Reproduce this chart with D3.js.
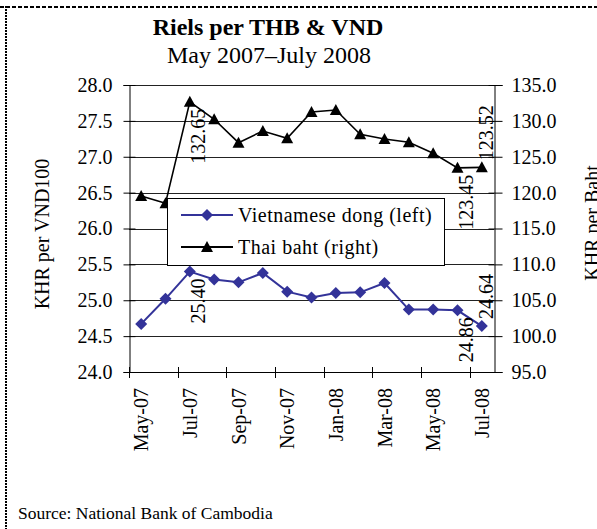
<!DOCTYPE html>
<html>
<head>
<meta charset="utf-8">
<script src="https://cdn.jsdelivr.net/npm/d3@7"></script>
<style>
  body { margin: 0; background: #fff; }
  text { font-family: "Liberation Serif", "Times New Roman", serif; fill: #000; }
</style>
</head>
<body>
<svg id="chart"></svg>
<script>
// months on the x axis
var months = ['May-07', 'Jun-07', 'Jul-07', 'Aug-07', 'Sep-07', 'Oct-07', 'Nov-07', 'Dec-07',
              'Jan-08', 'Feb-08', 'Mar-08', 'Apr-08', 'May-08', 'Jun-08', 'Jul-08'];
// KHR per VND100 (left axis)
var vnd = [24.67, 25.02, 25.40, 25.29, 25.25, 25.38, 25.12, 25.04, 25.10, 25.11, 25.24, 24.87, 24.87, 24.86, 24.64];
// KHR per Baht (right axis)
var thb = [119.53, 118.51, 132.65, 130.22, 126.96, 128.59, 127.57, 131.24, 131.52, 128.13, 127.47, 127.01, 125.48, 123.45, 123.52];
// which points carry a data label
var vndLabelled = [2, 13, 14];
var thbLabelled = [2, 13, 14];
var leftTicks = [24.0, 24.5, 25.0, 25.5, 26.0, 26.5, 27.0, 27.5, 28.0];
var rightTicks = [95, 100, 105, 110, 115, 120, 125, 130, 135];
var xTickMonths = ['May-07', 'Jul-07', 'Sep-07', 'Nov-07', 'Jan-08', 'Mar-08', 'May-08', 'Jul-08'];

var WIDTH = 597, HEIGHT = 529;
var plotL = 129, plotR = 494, plotT = 85, plotB = 372;
var blue = '#333399';

var svg = d3.select('#chart').attr('width', WIDTH).attr('height', HEIGHT);
svg.append('rect').attr('width', WIDTH).attr('height', HEIGHT).attr('fill', '#fff');

// dashed frame (top and left edges)
svg.append('line').attr('x1', 0).attr('x2', WIDTH).attr('y1', 7).attr('y2', 7)
  .attr('stroke', '#000').attr('stroke-width', 2).attr('stroke-dasharray', '4,2');
svg.append('line').attr('x1', 6).attr('x2', 6).attr('y1', 6).attr('y2', HEIGHT)
  .attr('stroke', '#000').attr('stroke-width', 2).attr('stroke-dasharray', '2,1');

var x = d3.scaleBand().domain(months).range([plotL, plotR]);
var yL = d3.scaleLinear().domain([24, 28]).range([plotB, plotT]);
var yR = d3.scaleLinear().domain([95, 135]).range([plotB, plotT]);
var cx = function (i) { return x(months[i]) + x.bandwidth() / 2; };

// titles
svg.append('text').attr('x', 268).attr('y', 35).attr('text-anchor', 'middle')
  .style('font-size', '24px').style('font-weight', 'bold').text('Riels per THB & VND');
svg.append('text').attr('x', 269).attr('y', 63).attr('text-anchor', 'middle')
  .style('font-size', '24px').text('May 2007\u2013July 2008');

// gridlines
svg.append('g').selectAll('line').data(leftTicks).enter().append('line')
  .attr('x1', plotL).attr('x2', plotR)
  .attr('y1', function (d) { return Math.round(yL(d)) + 0.5; })
  .attr('y2', function (d) { return Math.round(yL(d)) + 0.5; })
  .attr('stroke', '#222').attr('stroke-width', 1);

// left axis
var gl = svg.append('g').attr('transform', 'translate(' + (plotL + 0.5) + ',0)')
  .call(d3.axisLeft(yL).tickValues(leftTicks).tickFormat(d3.format('.1f'))
    .tickSize(6).tickPadding(11));
gl.selectAll('.tick line').attr('x1', 6);
gl.selectAll('text').style('font-size', '20px');

// right axis
var gr = svg.append('g').attr('transform', 'translate(' + (plotR + 0.5) + ',0)')
  .call(d3.axisRight(yR).tickValues(rightTicks).tickFormat(d3.format('.1f'))
    .tickSize(8).tickPadding(9));
gr.selectAll('.tick line').attr('x1', -6);
gr.selectAll('text').style('font-size', '20px');
svg.selectAll('.domain').attr('stroke', '#000');
svg.selectAll('.tick line').attr('stroke', '#000');

// x axis
var gx = svg.append('g');
gx.append('line').attr('x1', plotL).attr('x2', plotR).attr('y1', plotB + 0.5).attr('y2', plotB + 0.5)
  .attr('stroke', '#000');
gx.selectAll('line.tk').data(xTickMonths).enter().append('line').attr('class', 'tk')
  .attr('x1', function (d) { return Math.round(x(d)) + 0.5; })
  .attr('x2', function (d) { return Math.round(x(d)) + 0.5; })
  .attr('y1', plotB - 5).attr('y2', plotB + 6).attr('stroke', '#000');
gx.selectAll('text').data(xTickMonths).enter().append('text')
  .attr('transform', function (d) {
    return 'translate(' + (x(d) + x.bandwidth() / 2) + ',' + (plotB + 16) + ') rotate(-90)';
  })
  .attr('text-anchor', 'end').attr('dy', '0.35em').style('font-size', '20px')
  .text(function (d) { return d; });

// axis titles
svg.append('text').attr('transform', 'translate(42,234) rotate(-90)')
  .attr('text-anchor', 'middle').attr('dy', '0.35em').style('font-size', '20px').text('KHR per VND100');
svg.append('text').attr('transform', 'translate(592,223) rotate(-90)')
  .attr('text-anchor', 'middle').attr('dy', '0.35em').style('font-size', '20px').text('KHR per Baht');

// series lines
var lineL = d3.line().x(function (d, i) { return cx(i); }).y(function (d) { return yL(d); });
var lineR = d3.line().x(function (d, i) { return cx(i); }).y(function (d) { return yR(d); });
svg.append('path').datum(vnd).attr('d', lineL).attr('fill', 'none').attr('stroke', blue).attr('stroke-width', 2);
svg.append('path').datum(thb).attr('d', lineR).attr('fill', 'none').attr('stroke', '#000').attr('stroke-width', 1.6);

var diamond = 'M0,-6L6,0L0,6L-6,0Z';
var triangle = 'M0,-6L6,5L-6,5Z';
svg.append('g').selectAll('path').data(vnd).enter().append('path')
  .attr('d', diamond).attr('fill', blue)
  .attr('transform', function (d, i) { return 'translate(' + cx(i) + ',' + yL(d) + ')'; });
svg.append('g').selectAll('path').data(thb).enter().append('path')
  .attr('d', triangle).attr('fill', '#000')
  .attr('transform', function (d, i) { return 'translate(' + cx(i) + ',' + yR(d) + ')'; });

// data labels, rotated; the last point's label sits above, the others below
function addLabels(values, idx, scale) {
  svg.append('g').selectAll('text').data(idx).enter().append('text')
    .attr('transform', function (i) {
      var above = i === months.length - 1;
      var px = cx(i) + (above ? 4 : 8);
      var py = scale(values[i]) + (above ? -7 : 7);
      return 'translate(' + px + ',' + py + ') rotate(-90)';
    })
    .attr('text-anchor', function (i) { return i === months.length - 1 ? 'start' : 'end'; })
    .attr('dy', '0.35em').style('font-size', '20px')
    .text(function (i) { return d3.format('.2f')(values[i]); });
}
addLabels(thb, thbLabelled, yR);
addLabels(vnd, vndLabelled, yL);

// legend
var lg = svg.append('g');
lg.append('rect').attr('x', 167.5).attr('y', 198.5).attr('width', 277).attr('height', 67)
  .attr('fill', '#fff').attr('stroke', '#000');
var legendItems = [
  { name: 'Vietnamese dong (left)', color: blue, shape: diamond, y: 215 },
  { name: 'Thai baht (right)', color: '#000', shape: triangle, y: 247 }
];
legendItems.forEach(function (it) {
  lg.append('line').attr('x1', 181).attr('x2', 233).attr('y1', it.y).attr('y2', it.y)
    .attr('stroke', it.color).attr('stroke-width', 2);
  lg.append('path').attr('d', it.shape).attr('fill', it.color)
    .attr('transform', 'translate(207,' + it.y + ')');
  lg.append('text').attr('x', 238).attr('y', it.y).attr('dy', '0.35em')
    .style('font-size', '20px').style('letter-spacing', '0.5px').text(it.name);
});

// source
svg.append('text').attr('x', 18).attr('y', 519).style('font-size', '17.5px')
  .text('Source: National Bank of Cambodia');
</script>
</body>
</html>
